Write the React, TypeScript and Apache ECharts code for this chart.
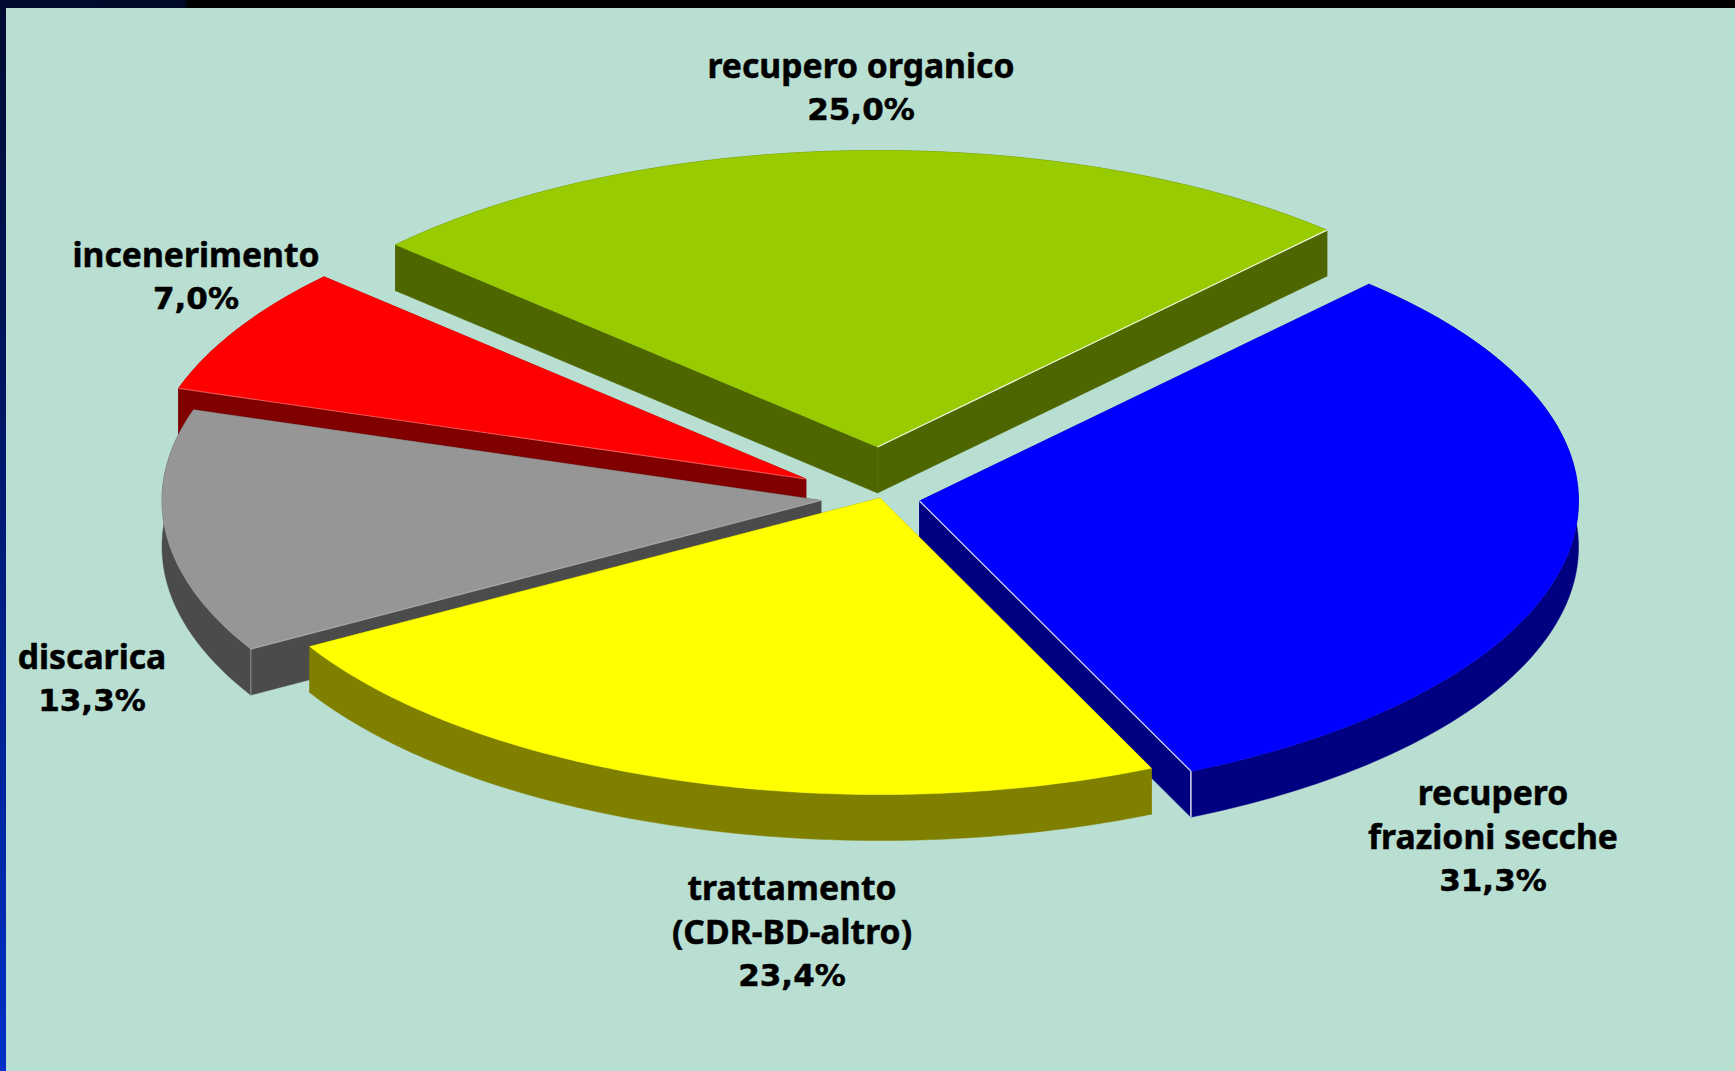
import React, { useEffect, useRef } from "react";
import * as echarts from "echarts";

const sliceNames = ["recupero organico", "recupero\nfrazioni secche", "trattamento\n(CDR-BD-altro)", "discarica", "incenerimento"];
const sliceValues = [25.0, 31.3, 23.4, 13.3, 7.0];
const topColors = ["#99cc00", "#0000ff", "#ffff00", "#969696", "#ff0000"];
const sideColors = ["#4d6600", "#000080", "#808000", "#4b4b4b", "#800000"];

// Geometry of the tilted pie (style, not data)
const START_ANGLE = 137;
const RX = 659;
const RY = 296.5;
const DEPTH = 46;
const apexOffsets = [[877.5, 447], [919.5, 501], [880, 498], [821, 500.5], [806, 479]];
const labelCentres = [[861, 87], [1493, 836], [792, 931], [92, 678], [196, 276]];
const drawOrder = [0, 4, 3, 1, 2];
// which edge of a slice carries a light line, and how strong
const edgeLight: ([string, number, boolean] | null)[] = [
  ["end", 0.85, false],
  ["end", 0.85, true],
  null,
  ["start", 0.25, true],
  ["start", 0.3, false],
];

const total = sliceValues.reduce((a, b) => a + b, 0);

function angleRange(i: number): [number, number] {
  let a = START_ANGLE;
  for (let k = 0; k < i; k++) a -= (sliceValues[k] / total) * 360;
  return [a, a - (sliceValues[i] / total) * 360];
}

function pt(i: number, deg: number, dz = 0): number[] {
  const [cx, cy] = apexOffsets[i];
  const r = (deg * Math.PI) / 180;
  return [cx + RX * Math.cos(r), cy - RY * Math.sin(r) + dz];
}

function renderItem(_params: any, api: any) {
  const i = api.value(0);
  const [a0, a1] = angleRange(i);
  const [cx, cy] = apexOffsets[i];
  const steps = Math.ceil(a0 - a1);
  const angles: number[] = [];
  for (let s = 0; s <= steps; s++) angles.push(a0 + ((a1 - a0) * s) / steps);
  const top = angles.map((a) => pt(i, a));
  const low = angles.map((a) => pt(i, a, DEPTH)).reverse();
  const side = sideColors[i];
  const seal = { stroke: side, lineWidth: 0.5 };
  const poly = (points: number[][], fill: string, s: any = seal) => ({
    type: "polygon",
    shape: { points },
    style: { fill, ...s },
  });
  const face = (a: number) => [[cx, cy], pt(i, a), pt(i, a, DEPTH), [cx, cy + DEPTH]];
  const children: any[] = [
    poly(top.concat(low), side),
    poly(face(a0), side),
    poly(face(a1), side),
    poly([[cx, cy], ...top], topColors[i], { stroke: topColors[i], lineWidth: 0.5 }),
  ];
  const light = edgeLight[i];
  if (light) {
    const a = light[0] === "start" ? a0 : a1;
    const p = pt(i, a);
    const stroke = `rgba(255,255,255,${light[1]})`;
    children.push({ type: "line", shape: { x1: cx, y1: cy, x2: p[0], y2: p[1] }, style: { stroke, lineWidth: 1.2 } });
    if (light[2]) {
      children.push({ type: "line", shape: { x1: p[0], y1: p[1], x2: p[0], y2: p[1] + DEPTH }, style: { stroke, lineWidth: 1.5 } });
    }
  }
  return { type: "group", children };
}

function labelItem(_params: any, api: any) {
  const i = api.value(0);
  const [x, y] = labelCentres[i];
  const nameLines = sliceNames[i].split("\n").map((l) => `{n|${l}}`);
  const value = `{v|${sliceValues[i].toFixed(1).replace(".", ",")}%}`;
  const common = { fill: "#000000", lineHeight: 44, fontWeight: "bold", stroke: "#000000", lineWidth: 0.5 };
  return {
    type: "text",
    x,
    y,
    style: {
      text: [...nameLines, value].join("\n"),
      align: "center",
      verticalAlign: "middle",
      rich: {
        n: { ...common, fontFamily: '"Noto Sans", sans-serif', fontSize: 33.7 },
        v: { ...common, fontFamily: '"DejaVu Sans", sans-serif', fontSize: 31 },
      },
    },
  };
}

export default function App() {
  const ref = useRef<HTMLDivElement>(null);
  useEffect(() => {
    document.body.style.margin = "0";
    document.body.style.overflow = "hidden";
    const chart = echarts.init(ref.current!, null, { renderer: "svg" });
    chart.setOption({
      animation: false,
      backgroundColor: "#b9dfd3",
      graphic: [
        {
          type: "rect",
          shape: { x: 0, y: 0, width: 1735, height: 8 },
          style: {
            fill: {
              type: "linear", x: 0, y: 0, x2: 1, y2: 0,
              colorStops: [
                { offset: 0, color: "#000b30" },
                { offset: 0.106, color: "#000a28" },
                { offset: 0.108, color: "#000000" },
                { offset: 1, color: "#000000" },
              ],
            },
          },
        },
        {
          type: "rect",
          shape: { x: 0, y: 0, width: 6, height: 1071 },
          style: {
            fill: {
              type: "linear", x: 0, y: 0, x2: 0, y2: 1,
              colorStops: [
                { offset: 0, color: "#000b30" },
                { offset: 0.35, color: "#001560" },
                { offset: 1, color: "#0030c8" },
              ],
            },
          },
        },
      ],
      series: [
        {
          type: "custom",
          coordinateSystem: "none",
          silent: true,
          renderItem,
          data: drawOrder.map((i) => [i, sliceValues[i]]),
        },
        {
          type: "custom",
          coordinateSystem: "none",
          silent: true,
          renderItem: labelItem,
          data: sliceNames.map((n, i) => ({ name: n, value: [i, sliceValues[i]] })),
        },
      ],
    });
    return () => chart.dispose();
  }, []);
  return <div ref={ref} style={{ width: 1735, height: 1071 }} />;
}
